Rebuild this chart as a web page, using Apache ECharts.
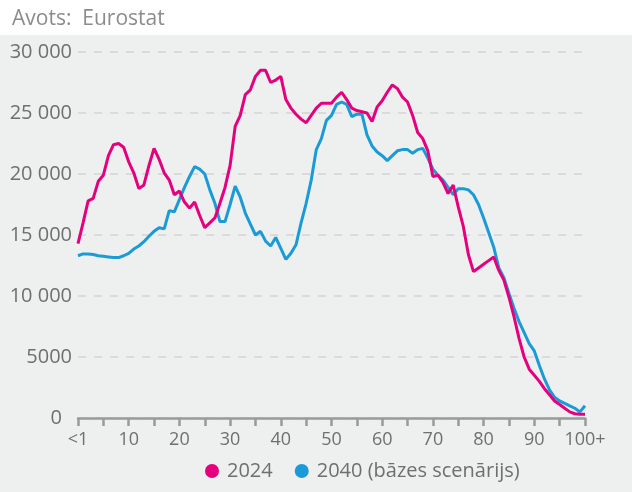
<!DOCTYPE html>
<html>
<head>
<meta charset="utf-8">
<script src="https://cdn.jsdelivr.net/npm/echarts@6/dist/echarts.min.js"></script>
<style>
  html, body { margin: 0; padding: 0; background: #fff; }
  #chart { width: 632px; height: 492px; }
</style>
</head>
<body>
<div id="chart"></div>
<script>
// vecums: <1 ... 100+
var ages = ['<1'];
for (var i = 1; i < 100; i++) ages.push(String(i));
ages.push('100+');

var pop2024 = [
  14300, 16000, 17800, 18000, 19400, 19900, 21500, 22400, 22500, 22200,
  21000, 20100, 18800, 19100, 20700, 22100, 21200, 20100, 19500, 18300,
  18600, 17700, 17200, 17700, 16600, 15600, 16000, 16400, 17600, 18900,
  20700, 23900, 24800, 26500, 26900, 28000, 28500, 28500, 27500, 27700,
  28000, 26100, 25400, 24900, 24500, 24200, 24800, 25400, 25800, 25800,
  25800, 26300, 26700, 26100, 25400, 25200, 25100, 25000, 24300, 25500,
  26000, 26700, 27300, 27000, 26300, 25900, 24800, 23400, 22900, 21900,
  19800, 19900, 19300, 18400, 19100, 17300, 15700, 13400, 12000, 12300,
  12600, 12900, 13200, 12100, 11300, 9900, 8300, 6500, 5000, 4000,
  3500, 3000, 2400, 1900, 1400, 1100, 800, 500, 350, 300,
  300
];

var pop2040 = [
  13300, 13450, 13450, 13400, 13300, 13250, 13200, 13150, 13150, 13300,
  13500, 13850, 14100, 14450, 14900, 15300, 15600, 15500, 17000, 16900,
  17900, 18900, 19800, 20600, 20400, 20000, 18700, 17600, 16100, 16100,
  17500, 19000, 18100, 16800, 15900, 15000, 15300, 14500, 14100, 14800,
  13900, 13000, 13500, 14200, 16000, 17600, 19500, 22000, 22900, 24400,
  24800, 25700, 25900, 25700, 24700, 24900, 24900, 23200, 22300, 21800,
  21500, 21100, 21500, 21900, 22000, 22000, 21700, 22000, 22100, 21300,
  20400, 19900, 19500, 18900, 18300, 18800, 18800, 18700, 18300, 17500,
  16400, 15200, 14000, 12300, 11500, 10200, 9000, 7900, 7000, 6100,
  5500, 4300, 3200, 2300, 1700, 1400, 1200, 1000, 800, 500,
  1000
];

var seriesNames = ['2024', '2040 (bāzes scenārijs)'];

var font = 'Open Sans';
var textGray = '#6f6f6f';

function fmtY(v) {
  if (v === 0) return '{z|0}';
  if (v >= 10000) {
    var s = String(v);
    return s.slice(0, s.length - 3) + ' ' + s.slice(-3);
  }
  return String(v);
}

var myChart = echarts.init(document.getElementById('chart'));
myChart.setOption({
  animation: false,
  textStyle: { fontFamily: font },
  title: {
    text: 'Avots:  Eurostat',
    left: 7,
    top: 4,
    textStyle: { fontFamily: font, fontSize: 21, fontWeight: 'normal', color: '#8c8c8c' }
  },
  graphic: [{
    type: 'rect',
    z: -10,
    shape: { x: 0, y: 35, width: 632, height: 457 },
    style: { fill: '#eeefef' }
  }],
  legend: {
    data: seriesNames,
    left: 200,
    top: 456,
    icon: 'circle',
    itemWidth: 14,
    itemHeight: 14,
    itemGap: 22,
    textStyle: { fontFamily: font, fontSize: 20, color: textGray, padding: [0, 0, 0, 3] }
  },
  grid: { left: 78, right: 47, top: 52, bottom: 74 },
  xAxis: {
    type: 'category',
    data: ages,
    boundaryGap: false,
    axisLine: { lineStyle: { color: '#9a9a9a', width: 2.5 } },
    axisTick: { interval: 4, length: 8, lineStyle: { color: '#9a9a9a', width: 2.5 } },
    axisLabel: {
      interval: 9,
      margin: 13,
      fontFamily: font,
      fontSize: 18,
      color: textGray
    },
    splitLine: { show: false }
  },
  yAxis: {
    type: 'value',
    min: 0,
    max: 30000,
    interval: 5000,
    axisLine: { show: false },
    axisTick: { show: false },
    axisLabel: {
      margin: 6,
      fontFamily: font,
      fontSize: 20,
      color: textGray,
      formatter: fmtY,
      rich: { z: { fontFamily: font, fontSize: 20, color: textGray, padding: [0, 10, 0, 0] } }
    },
    splitLine: { lineStyle: { color: '#d3d3d3', width: 1.5, type: [8, 8] } }
  },
  series: [{
    name: seriesNames[0],
    type: 'line',
    data: pop2024,
    symbol: 'none',
    color: '#e5007d',
    lineStyle: { width: 3 },
    z: 3
  }, {
    name: seriesNames[1],
    type: 'line',
    data: pop2040,
    symbol: 'none',
    color: '#1a9bd7',
    lineStyle: { width: 3 },
    z: 2
  }]
});
</script>
</body>
</html>
